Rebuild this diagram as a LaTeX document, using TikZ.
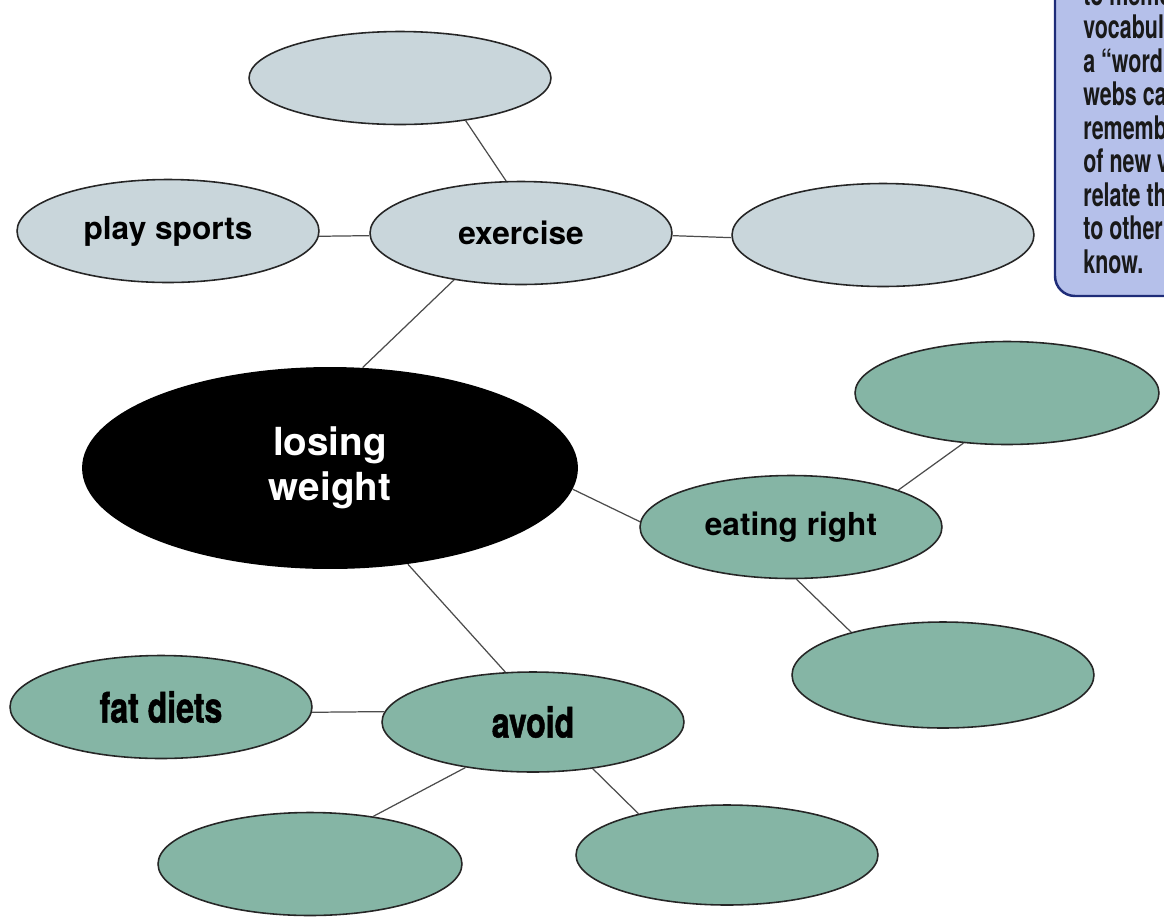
\documentclass[tikz,border=0pt]{standalone}
\usepackage{fontspec}
\setmainfont{TeX Gyre Heros}
\newfontfamily\condfam{TeX Gyre Heros}[FakeStretch=0.76,FakeBold=1.2]
\newfontfamily\sidefam{TeX Gyre Heros}[FakeStretch=0.66]
\usetikzlibrary{shapes.geometric}
\definecolor{paleblue}{HTML}{C9D6DB}
\definecolor{sage}{HTML}{85B5A5}
\definecolor{sidefill}{HTML}{B5C0EA}
\definecolor{sideline}{HTML}{1E2C78}
\begin{document}
\begin{tikzpicture}[x=0.02cm,y=-0.02cm,
  bub/.style={ellipse, draw=black!85, line width=0.9pt, inner sep=0pt,
    minimum width=6.04cm, minimum height=2.06cm,
    font=\bfseries\fontsize{18}{21}\selectfont},
  graybub/.style={bub, fill=paleblue},
  greenbub/.style={bub, fill=sage},
  condtext/.style={font=\condfam\bfseries\fontsize{24}{27}\selectfont},
  link/.style={draw=black!70, line width=0.7pt},
  sidetext/.style={anchor=base west, inner sep=0pt, text=black!90,
    font=\sidefam\bfseries\fontsize{18.5}{21}\selectfont}]
\useasboundingbox (0,0) rectangle (1164,921);

% ellipses
\node[graybub, minimum height=1.86cm] (top) at (400,78) {};
\node[graybub] (ps) at (168,231) {play sports};
\node[graybub] (ex) at (521,233) {exercise};
\node[graybub] (rb) at (883,235) {};
\node[ellipse, fill=black, inner sep=0pt, minimum width=9.92cm, minimum height=4.04cm] (lw) at (330,468) {};
\node[align=center, text=white, font=\bfseries\fontsize{22}{25.5}\selectfont] (lwt) at (330,468) {losing\\weight};
\node[greenbub] (er) at (791,527) {eating right};
\node[greenbub, minimum width=6.08cm] (trb) at (1007,393) {};
\node[greenbub, minimum height=2.12cm] (brb) at (943,675) {};
\node[greenbub, condtext] (fd) at (161,707) {fat diets};
\node[greenbub, condtext, minimum height=2.0cm] (av) at (533,722) {avoid};
\node[greenbub, minimum width=6.08cm] (blb) at (310,864) {};
\node[greenbub, minimum height=2.0cm] (bmb) at (727,855) {};

% connectors
\draw[link] (top.-33) -- (ex.106);
\draw[link] (ps.-2) -- (ex.181);
\draw[link] (ex.-1) -- (rb.181);
\draw[link] (ex.-145) -- (lw.72);
\draw[link] (lw.-5) -- (er.178);
\draw[link] (er.19) -- (trb.-131);
\draw[link] (er.-84) -- (brb.155);
\draw[link] (lw.-51) -- (av.119);
\draw[link] (fd.-2) -- (av.176);
\draw[link] (av.-146) -- (blb.37);
\draw[link] (av.-38) -- (bmb.155);

% side box
\begin{scope}
  \clip (0,0) rectangle (1164,921);
  \draw[fill=sidefill, draw=sideline, line width=1.4pt, rounded corners=0.4cm]
    (1055,-30) -- (1055,296) -- (1200,296) -- (1200,-30) -- cycle;
  \node[sidetext] (s1) at (1083,5) {to memo};
  \node[sidetext] (s2) at (1083,38.5) {vocabula};
  \node[sidetext] (s3) at (1083,72) {a “word};
  \node[sidetext] (s4) at (1083,105.5) {webs can};
  \node[sidetext] (s5) at (1083,139) {remembe};
  \node[sidetext] (s6) at (1083,172.5) {of new v};
  \node[sidetext] (s7) at (1083,206) {relate thi};
  \node[sidetext] (s8) at (1083,239.5) {to other};
  \node[sidetext] (s9) at (1083,273) {know.};
\end{scope}
\end{tikzpicture}
\end{document}
